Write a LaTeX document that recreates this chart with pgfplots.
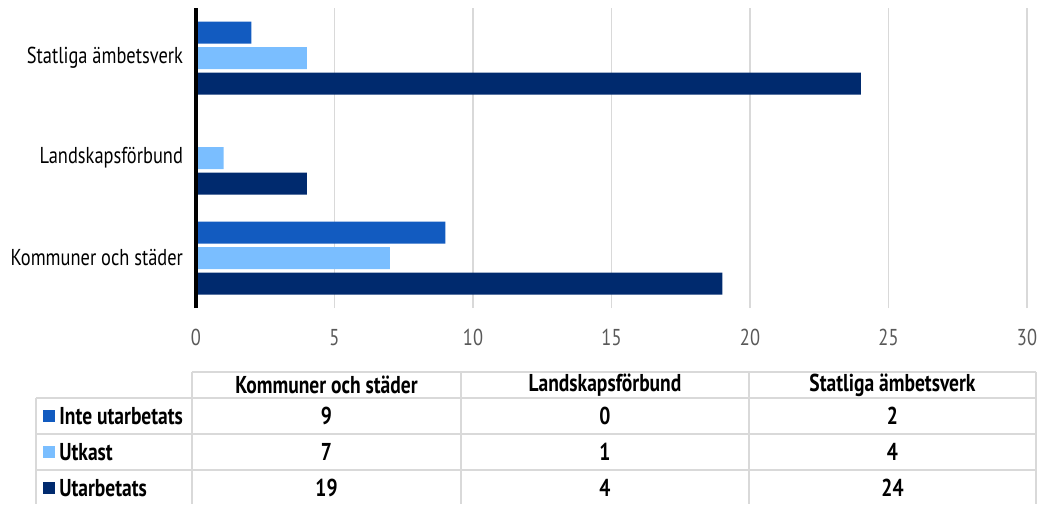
\documentclass[border=0pt]{standalone}
\usepackage{fontspec}
\setmainfont{PT Sans}[FakeStretch=0.8]
\usepackage{pgfplots}
\pgfplotsset{compat=1.18}
\definecolor{cInte}{RGB}{18,91,192}
\definecolor{cUtk}{RGB}{122,190,255}
\definecolor{cUtb}{RGB}{0,42,110}
\definecolor{gridc}{RGB}{217,217,217}
\definecolor{tickc}{RGB}{89,89,89}
\begin{document}
\begin{tikzpicture}
\path[use as bounding box] (0,0) rectangle (521pt,-252pt);
\begin{axis}[
  at={(98pt,-154pt)}, anchor=south west,
  scale only axis, width=415.5pt, height=150pt,
  xmin=0, xmax=30, ymin=-0.5, ymax=2.5,
  xbar, bar width=0.22,
  xtick={0,5,...,30},
  ytick={0,1,2},
  yticklabels={Kommuner och städer, Landskapsförbund, Statliga ämbetsverk},
  axis line style={draw=none},
  major tick length=0pt,
  xmajorgrids, grid style={gridc, line width=0.9pt},
  /pgf/number format/assume math mode=true,
  xticklabel style={font=\fontsize{11.5}{13}\selectfont, text=tickc, yshift=-7pt},
  yticklabel style={font=\fontsize{11.5}{13}\selectfont, text=black, xshift=-3pt},
  clip=false,
]
\addplot[fill=cInte, draw=none, bar shift=0.255] coordinates {(9,0) (0,1) (2,2)};
\addplot[fill=cUtk, draw=none, bar shift=0] coordinates {(7,0) (1,1) (4,2)};
\addplot[fill=cUtb, draw=none, bar shift=-0.255] coordinates {(19,0) (4,1) (24,2)};
\draw[black, line width=2pt] (axis cs:0,-0.5) -- (axis cs:0,2.5);
\end{axis}
\begin{scope}[x=0.5pt, y=-0.5pt]
  % table lines
  \draw[gridc, line width=1pt] (192,372) -- (1036,372);
  \foreach \yy in {398,434,470} \draw[gridc, line width=1pt] (36,\yy) -- (1036,\yy);
  \draw[gridc, line width=1pt] (36,398) -- (36,504);
  \foreach \xx in {192,461,749,1036} \draw[gridc, line width=1pt] (\xx,372) -- (\xx,504);
  \begin{scope}[font=\fontsize{12.2}{14}\selectfont\bfseries]
  \node at (326.5,385) {Kommuner och städer};
  \node at (605,385) {Landskapsförbund};
  \node at (892.5,385) {Statliga ämbetsverk};
  \node at (326.5,416) {9};  \node at (605,416) {0}; \node at (892.5,416) {2};
  \node at (326.5,452) {7};  \node at (605,452) {1}; \node at (892.5,452) {4};
  \node at (326.5,488) {19}; \node at (605,488) {4}; \node at (892.5,488) {24};
  \fill[cInte] (43,410) rectangle (55,422);
  \fill[cUtk] (43,446) rectangle (55,458);
  \fill[cUtb] (43,482) rectangle (55,494);
  \node[anchor=west, inner sep=0pt] at (59,416) {Inte utarbetats};
  \node[anchor=west, inner sep=0pt] at (59,452) {Utkast};
  \node[anchor=west, inner sep=0pt] at (59,488) {Utarbetats};
  \end{scope}
\end{scope}
\end{tikzpicture}
\end{document}
